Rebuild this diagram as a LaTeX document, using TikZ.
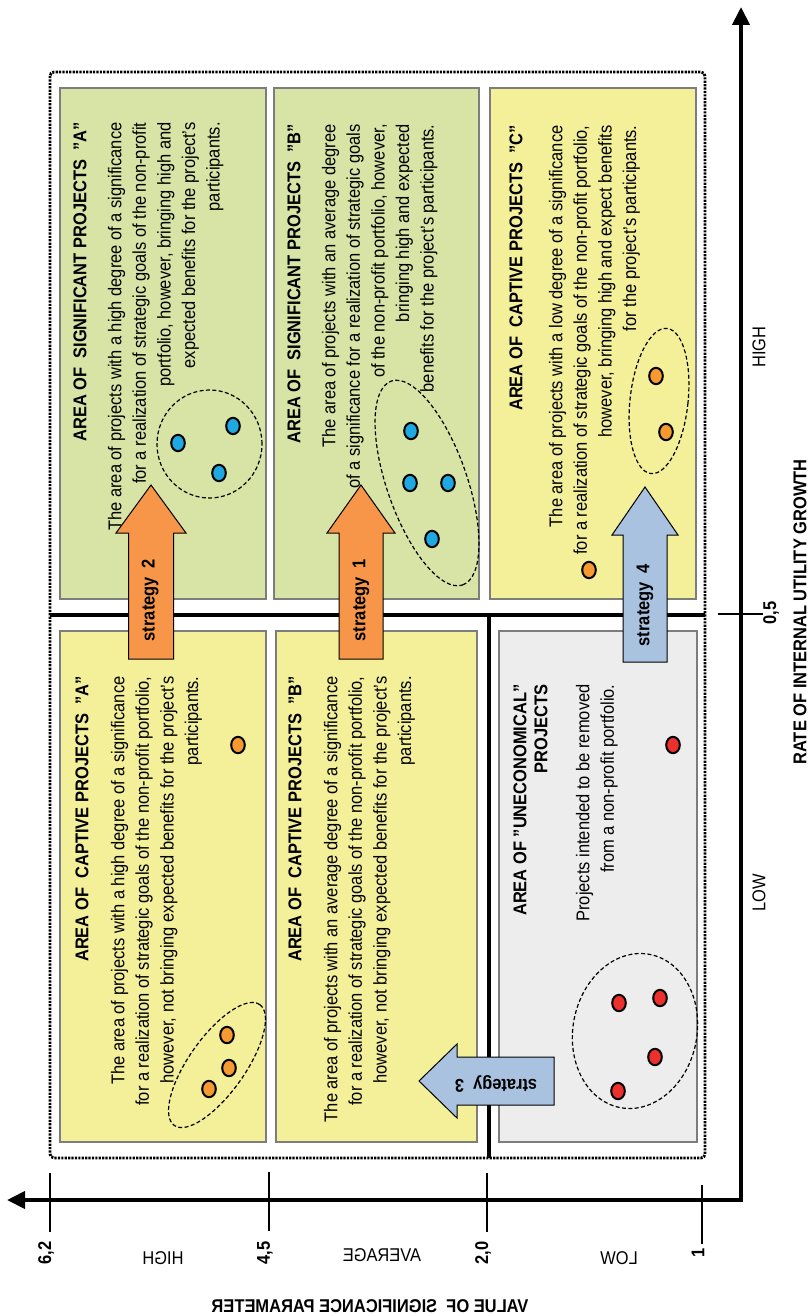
\documentclass[tikz,border=0pt]{standalone}
\usepackage{fontspec}
\setmainfont{Liberation Sans}[FakeStretch=0.89]
\usetikzlibrary{shapes.geometric}
\usepgflibrary{arrows.meta}

\definecolor{sigGreen}{RGB}{216,228,165}
\definecolor{capYellow}{RGB}{243,240,153}
\definecolor{unGray}{RGB}{236,237,236}
\definecolor{boxGray}{RGB}{125,125,125}
\definecolor{stratOrange}{RGB}{247,150,72}
\definecolor{stratBlue}{RGB}{168,194,224}
\definecolor{dotBlue}{RGB}{32,168,226}
\definecolor{dotOrange}{RGB}{246,153,48}
\definecolor{dotRed}{RGB}{236,49,45}

\newcommand{\diagfont}{\fontsize{9.25}{12.3}\selectfont}

\begin{document}
\begin{tikzpicture}
    [x=0.5pt, y=-0.5pt,
    every node/.style={font=\diagfont},
    area/.style={draw=boxGray, line width=1pt},
    areatext/.style={rotate=90, anchor=north east, align=right, inner sep=0pt},
    project/.style={ellipse, draw=black, line width=1pt, inner sep=0pt,
        minimum width=6.8pt, minimum height=8.2pt},
    cluster/.style={ellipse, draw=black, line width=0.6pt,
        dash pattern=on 2pt off 1.2pt, inner sep=0pt},
    strat/.style={draw=black, line width=0.5pt},
    stratlabel/.style={font=\diagfont\bfseries, inner sep=0pt},
    axis/.style={line width=2pt,
        {Triangle[length=9pt,width=8.5pt]}-{Triangle[length=9pt,width=8.5pt]}},
    axtick/.style={line width=1.3pt},
    axlabel/.style={inner sep=0pt},
    axtitle/.style={font=\diagfont\bfseries, inner sep=0pt}]
    \useasboundingbox (0,0) rectangle (810,1316);

    %% Areas
    \draw[area, fill=sigGreen] (60,88) rectangle (266,599);
    \draw[area, fill=sigGreen] (274,88) rectangle (479,599);
    \draw[area, fill=capYellow] (490,88) rectangle (696,599);
    \draw[area, fill=capYellow] (60,631) rectangle (266,1142);
    \draw[area, fill=capYellow] (276,631) rectangle (477,1142);
    \draw[area, fill=unGray] (499,631) rectangle (697,1142);

    %% Frame and dividing lines
    \draw[line width=1.4pt, dash pattern=on 1.1pt off 0.6pt, rounded corners=2pt]
        (50,72) rectangle (705,1158);
    \draw[line width=2.3pt] (50,615) -- (705,615);
    \draw[line width=2.3pt] (489,615) -- (489,1158);

    %% Texts of the areas
    \node[areatext] (sigAtxt) at (73,122)
        {\textbf{AREA OF\ \ SIGNIFICANT PROJECTS\ \ "A"}\\[5.2pt]
        The area of projects with a high degree of a significance\\
        for a realization of strategic goals of the non-profit\\
        portfolio, however, bringing high and\\
        expected benefits for the project's\\
        participants.};
    \node[areatext] (sigBtxt) at (287,124)
        {\textbf{AREA OF\ \ SIGNIFICANT PROJECTS\ \ "B"}\\[5.2pt]
        The area of projects with an average degree\\
        of a significance for a realization of strategic goals\\
        of the non-profit portfolio, however,\\
        bringing high and expected\\
        benefits for the project's participants.};
    \node[areatext] (capCtxt) at (509,125)
        {\textbf{AREA OF\ \ CAPTIVE PROJECTS\ \ "C"}\\[7.7pt]
        The area of projects with a low degree of a significance\\
        for a realization of strategic goals of the non-profit portfolio,\\
        however, bringing high and expect benefits\\
        for the project's participants.};
    \node[areatext] (capAtxt) at (75,676)
        {\textbf{AREA OF\ \ CAPTIVE PROJECTS\ \ "A"}\\[5.7pt]
        The area of projects with a high degree of a significance\\
        for a realization of strategic goals of the non-profit portfolio,\\
        however, not bringing expected benefits for the project's\\
        participants.};
    \node[areatext] (capBtxt) at (288,676)
        {\textbf{AREA OF\ \ CAPTIVE PROJECTS\ \ "B"}\\[5.7pt]
        The area of projects with an average degree of a significance\\
        for a realization of strategic goals of the non-profit portfolio,\\
        however, not bringing expected benefits for the project's\\
        participants.};
    \node[areatext] (unTxt) at (513,684)
        {\textbf{AREA OF "UNECONOMICAL"}\\[-1.8pt]
        \textbf{PROJECTS}\\[8.7pt]
        Projects intended to be removed\\
        from a non-profit portfolio.};

    %% Groups of projects
    \node[cluster, minimum width=52.5pt, minimum height=54pt] (gSigA) at (209.5,444) {};
    \node[cluster, minimum width=108pt, minimum height=40pt, rotate=-70.7] (gSigB) at (427,483) {};
    \node[cluster, minimum width=29pt, minimum height=73pt, rotate=-6.3] (gCapC) at (659,401) {};
    \node[cluster, minimum width=74pt, minimum height=28pt, rotate=54.7] (gCapA) at (217,1065) {};
    \node[cluster, minimum width=62pt, minimum height=78pt, rotate=-11] (gUn) at (635,1031) {};

    %% Projects
    \node[project, fill=dotBlue] (pA1) at (178,443) {};
    \node[project, fill=dotBlue] (pA2) at (233,426) {};
    \node[project, fill=dotBlue] (pA3) at (219,473) {};
    \node[project, fill=dotBlue] (pB1) at (411,431) {};
    \node[project, fill=dotBlue] (pB2) at (410,483) {};
    \node[project, fill=dotBlue] (pB3) at (448,483) {};
    \node[project, fill=dotBlue] (pB4) at (432,539) {};
    \node[project, fill=dotOrange] (pC1) at (656,376) {};
    \node[project, fill=dotOrange] (pC2) at (666,432) {};
    \node[project, fill=dotOrange] (pC3) at (589,570) {};
    \node[project, fill=dotOrange] (pCA1) at (238,745) {};
    \node[project, fill=dotOrange] (pCA2) at (209,1089) {};
    \node[project, fill=dotOrange] (pCA3) at (229,1068) {};
    \node[project, fill=dotOrange] (pCA4) at (227,1035) {};
    \node[project, fill=dotRed] (pU1) at (673,745) {};
    \node[project, fill=dotRed] (pU2) at (619,1003) {};
    \node[project, fill=dotRed] (pU3) at (660,998) {};
    \node[project, fill=dotRed] (pU4) at (655,1057) {};
    \node[project, fill=dotRed] (pU5) at (618,1091) {};

    %% Strategies
    \draw[strat, fill=stratOrange] (151,485) -- (186,533) -- (173.5,533) -- (173.5,659)
        -- (128.5,659) -- (128.5,533) -- (116,533) -- cycle;
    \draw[strat, fill=stratOrange] (361,485) -- (395,533) -- (383,533) -- (383,659)
        -- (339,659) -- (339,533) -- (327,533) -- cycle;
    \draw[strat, fill=stratBlue] (645,487) -- (678,535) -- (667,535) -- (667,662)
        -- (623,662) -- (623,535) -- (612,535) -- cycle;
    \draw[strat, fill=stratBlue] (419,1081) -- (457,1044) -- (457,1057) -- (554,1057)
        -- (554,1105) -- (457,1105) -- (457,1118) -- cycle;
    \node[stratlabel, rotate=90] (s2) at (150,600) {strategy\ \ 2};
    \node[stratlabel, rotate=90] (s1) at (361,600) {strategy\ \ 1};
    \node[stratlabel, rotate=90] (s4) at (645,605) {strategy\ \ 4};
    \node[stratlabel, rotate=180] (s3) at (496,1084) {strategy\ \ 3};

    %% Axes
    \coordinate (O) at (741,1200);
    \coordinate (xTip) at (741,7);
    \coordinate (yTip) at (7,1200);
    \draw[axis] (xTip) -- (O) -- (yTip);

    \draw[axtick] (718,614) -- (763,614);
    \node[axtitle, rotate=90] (x05) at (771,613) {0,5};
    \node[axlabel, rotate=90] (xHigh) at (759,347) {HIGH};
    \node[axlabel, rotate=90] (xLow) at (759,893) {LOW};
    \node[axtitle, rotate=90] (xTitle) at (800,612) {RATE OF INTERNAL UTILITY GROWTH};

    \foreach \x/\y/\lab [count=\i] in {50/1173/{6,2}, 269/1172/{4,5}, 487/1173/{2,0}, 702/1185/1}
    {
        \draw[axtick] (\x,\y) -- ++(0,59);
        \node[axtitle, rotate=90] (yv\i) at (\x-4,1253) {\lab};
    }
    \node[axlabel, xscale=-1] (yHigh) at (163,1258) {HIGH};
    \node[axlabel, xscale=-1] (yAvg) at (382,1255) {AVERAGE};
    \node[axlabel, xscale=-1] (yLow) at (619,1258) {LOW};
    \node[axtitle, xscale=-1] (yTitle) at (370,1306) {VALUE OF\ \ SIGNIFICANCE PARAMETER};
\end{tikzpicture}
\end{document}
